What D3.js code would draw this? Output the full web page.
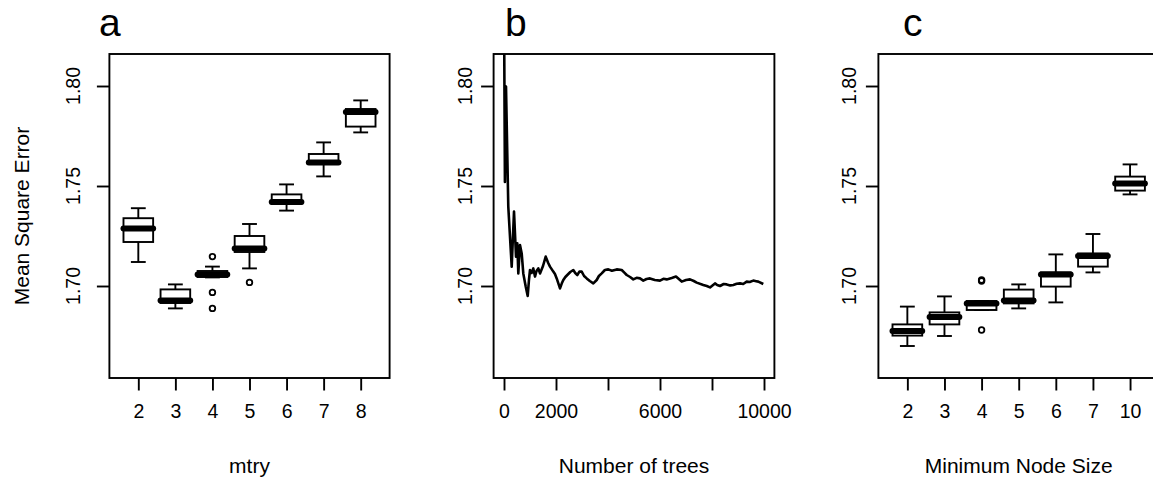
<!DOCTYPE html>
<html>
<head>
<meta charset="utf-8">
<script src="https://cdn.jsdelivr.net/npm/d3@7"></script>
<style>
  html, body { margin: 0; padding: 0; background: #fff; }
  svg { display: block; }
  text { font-family: "Liberation Sans", Arial, Helvetica, sans-serif; fill: #000; }
</style>
</head>
<body>
<svg id="chart" width="1153" height="481"></svg>
<script>
// ---------------- DATA ----------------
// Panel a: mtry boxplots (five-number summaries + outliers)
const mtryCats = ["2", "3", "4", "5", "6", "7", "8"];
const mtryLow  = [1.7120, 1.6888, 1.7043, 1.7088, 1.7377, 1.7548, 1.7768];
const mtryQ1   = [1.7220, 1.6915, 1.7045, 1.7170, 1.7410, 1.7610, 1.7797];
const mtryMed  = [1.7287, 1.6928, 1.7058, 1.7187, 1.7420, 1.7617, 1.7870];
const mtryQ3   = [1.7339, 1.6983, 1.7075, 1.7250, 1.7458, 1.7660, 1.7885];
const mtryHigh = [1.7389, 1.7008, 1.7097, 1.7310, 1.7508, 1.7718, 1.7928];
const mtryOut  = [[], [], [1.7147, 1.6968, 1.6888], [1.7018], [], [], []];

// Panel b: error vs number of trees
const treeN   = [1, 35, 77, 165, 296, 385, 462, 512, 550, 615, 681, 742, 835, 912,
                 960, 1000, 1060, 1127, 1192, 1250, 1319, 1385, 1500, 1604, 1700, 1769,
                 1896, 1960, 2027, 2154, 2220, 2281, 2360, 2435, 2550, 2665, 2740, 2819,
                 2900, 2988, 3080, 3181, 3300, 3435, 3565, 3650, 3758, 3880, 4012, 4150,
                 4335, 4527, 4620, 4719, 4850, 4973, 5100, 5231, 5358, 5480, 5615, 5800,
                 6000, 6130, 6258, 6450, 6615, 6835, 7000, 7154, 7300, 7412, 7665, 7800,
                 7923, 8115, 8200, 8308, 8450, 8565, 8700, 8819, 8950, 9077, 9200, 9335,
                 9450, 9588, 9700, 9781, 9973];
const treeMSE = [1.840, 1.752, 1.7997, 1.7397, 1.7097, 1.7372, 1.7147, 1.7213, 1.7063,
                 1.7205, 1.7163, 1.7063, 1.6997, 1.6950, 1.7030, 1.7080, 1.7065, 1.7088,
                 1.7047, 1.7075, 1.7088, 1.7063, 1.7100, 1.7147, 1.7115, 1.7097,
                 1.7072, 1.7060, 1.7038, 1.6988, 1.7012, 1.7030, 1.7045, 1.7055, 1.7070,
                 1.7080, 1.7065, 1.7055, 1.7072, 1.7072, 1.7050, 1.7038, 1.7025, 1.7013,
                 1.7030, 1.7050, 1.7063, 1.7080, 1.7083, 1.7076, 1.7083, 1.7080, 1.7068,
                 1.7055, 1.7045, 1.7033, 1.7041, 1.7038, 1.7027, 1.7035, 1.7038, 1.7030,
                 1.7027, 1.7036, 1.7033, 1.7040, 1.7047, 1.7022, 1.7030, 1.7033, 1.7025,
                 1.7017, 1.7005, 1.7000, 1.6993, 1.7013, 1.7005, 1.7000, 1.7010, 1.7008,
                 1.7003, 1.7005, 1.7011, 1.7013, 1.7010, 1.7022, 1.7020, 1.7027, 1.7024,
                 1.7022, 1.7010];
const treeTicks  = [0, 2000, 4000, 6000, 8000, 10000];
const treeLabels = ["0", "2000", "", "6000", "", "10000"];

// Panel c: minimum node size boxplots
const nodeCats = ["2", "3", "4", "5", "6", "7", "10"];
const nodeLow  = [1.6700, 1.6750, 1.6880, 1.6888, 1.6918, 1.7068, 1.7458];
const nodeQ1   = [1.6752, 1.6808, 1.6880, 1.6913, 1.6997, 1.7097, 1.7477];
const nodeMed  = [1.6775, 1.6845, 1.6913, 1.6927, 1.7057, 1.7150, 1.7513];
const nodeQ3   = [1.6808, 1.6868, 1.6925, 1.6982, 1.7068, 1.7163, 1.7547];
const nodeHigh = [1.6897, 1.6948, 1.6925, 1.7008, 1.7158, 1.7260, 1.7608];
const nodeOut  = [[], [], [1.7025, 1.7030, 1.6780], [], [], [], []];

const yTicks = [1.70, 1.75, 1.80];
const yDomain = [1.654, 1.816];
const panelLetters = ["a", "b", "c"];
const xTitles = ["mtry", "Number of trees", "Minimum Node Size"];
const yTitle = "Mean Square Error";

// ---------------- LAYOUT ----------------
const svg = d3.select("#chart");
const plotTop = 54, plotBottom = 378;
const panels = [
  { left: 109.4, right: 389.6, letterX: 99,  yLabX: 73 },
  { left: 493.6, right: 774.4, letterX: 505, yLabX: 465.5 },
  { left: 878.4, right: 1159,  letterX: 903, yLabX: 849 }
];
const lw = 1.9;
const fsTick = 19.5;
const fsLab = 21;

const y = d3.scaleLinear().domain(yDomain).range([plotBottom, plotTop]);

function styleTicks(ax) {
  ax.select(".domain").remove();
  ax.selectAll(".tick line").attr("stroke", "#000").attr("stroke-width", lw);
  ax.selectAll(".tick text").style("font-size", fsTick + "px").attr("fill", "#000")
    .style("font-family", '"Liberation Sans", Arial, sans-serif');
}

function frameAndY(p, i) {
  const g = svg.append("g");
  g.append("rect").attr("x", p.left).attr("y", plotTop)
    .attr("width", p.right - p.left).attr("height", plotBottom - plotTop)
    .attr("fill", "none").attr("stroke", "#000").attr("stroke-width", lw);
  const ax = g.append("g").attr("transform", `translate(${p.left},0)`)
    .call(d3.axisLeft(y).tickValues(yTicks).tickFormat(d3.format(".2f")).tickSize(12.5).tickPadding(0));
  styleTicks(ax);
  ax.selectAll(".tick text").remove();
  yTicks.forEach(t => {
    g.append("text")
      .attr("transform", `translate(${p.yLabX},${y(t)}) rotate(-90)`)
      .attr("text-anchor", "middle").attr("dy", "0.35em")
      .style("font-size", fsTick + "px")
      .text(d3.format(".2f")(t));
  });
  g.append("text").attr("x", p.letterX).attr("y", 36)
    .style("font-size", "39px").text(panelLetters[i]);
  g.append("text").attr("x", (p.left + p.right) / 2).attr("y", 473)
    .attr("text-anchor", "middle").style("font-size", fsLab + "px").text(xTitles[i]);
  return g;
}

function boxPanel(p, i, cats, low, q1, med, q3, high, outs) {
  const g = frameAndY(p, i);
  const x = d3.scalePoint().domain(cats).range([p.left, p.right]).padding(0.78);
  const ax = g.append("g").attr("transform", `translate(0,${plotBottom})`)
    .call(d3.axisBottom(x).tickSize(12.5).tickPadding(14));
  styleTicks(ax);
  const half = x.step() * 0.4;
  const staple = half * 0.5;
  cats.forEach((c, k) => {
    const cx = x(c);
    g.append("line").attr("x1", cx).attr("x2", cx).attr("y1", y(high[k])).attr("y2", y(q3[k]))
      .attr("stroke", "#000").attr("stroke-width", lw);
    g.append("line").attr("x1", cx).attr("x2", cx).attr("y1", y(low[k])).attr("y2", y(q1[k]))
      .attr("stroke", "#000").attr("stroke-width", lw);
    g.append("line").attr("x1", cx - staple).attr("x2", cx + staple).attr("y1", y(high[k])).attr("y2", y(high[k]))
      .attr("stroke", "#000").attr("stroke-width", lw);
    g.append("line").attr("x1", cx - staple).attr("x2", cx + staple).attr("y1", y(low[k])).attr("y2", y(low[k]))
      .attr("stroke", "#000").attr("stroke-width", lw);
    g.append("rect").attr("x", cx - half).attr("y", y(q3[k]))
      .attr("width", 2 * half).attr("height", Math.max(0.01, y(q1[k]) - y(q3[k])))
      .attr("fill", "#fff").attr("stroke", "#000").attr("stroke-width", lw);
    g.append("line").attr("x1", cx - half).attr("x2", cx + half)
      .attr("y1", y(med[k])).attr("y2", y(med[k]))
      .attr("stroke", "#000").attr("stroke-width", 6).attr("stroke-linecap", "round");
    outs[k].forEach(v => {
      g.append("circle").attr("cx", cx).attr("cy", y(v)).attr("r", 2.8)
        .attr("fill", "none").attr("stroke", "#000").attr("stroke-width", 1.8);
    });
  });
}

boxPanel(panels[0], 0, mtryCats, mtryLow, mtryQ1, mtryMed, mtryQ3, mtryHigh, mtryOut);

// Panel b
(function () {
  const p = panels[1];
  const g = frameAndY(p, 1);
  const x = d3.scaleLinear().domain([-400, 10400]).range([p.left, p.right]);
  const ax = g.append("g").attr("transform", `translate(0,${plotBottom})`)
    .call(d3.axisBottom(x).tickValues(treeTicks).tickFormat((d, k) => treeLabels[k]).tickSize(12.5).tickPadding(14));
  styleTicks(ax);
  svg.append("clipPath").attr("id", "clipb").append("rect")
    .attr("x", p.left).attr("y", plotTop).attr("width", p.right - p.left).attr("height", plotBottom - plotTop);
  const line = d3.line().x((d, k) => x(treeN[k])).y(d => y(d));
  g.append("path").datum(treeMSE).attr("d", line)
    .attr("clip-path", "url(#clipb)")
    .attr("fill", "none").attr("stroke", "#000").attr("stroke-width", 2.6)
    .attr("stroke-linejoin", "round");
})();

boxPanel(panels[2], 2, nodeCats, nodeLow, nodeQ1, nodeMed, nodeQ3, nodeHigh, nodeOut);

// Y title (panel a only)
svg.append("text")
  .attr("transform", `translate(22,${(plotTop + plotBottom) / 2}) rotate(-90)`)
  .attr("text-anchor", "middle").attr("dy", "0.35em")
  .style("font-size", fsLab + "px").text(yTitle);
</script>
</body>
</html>
